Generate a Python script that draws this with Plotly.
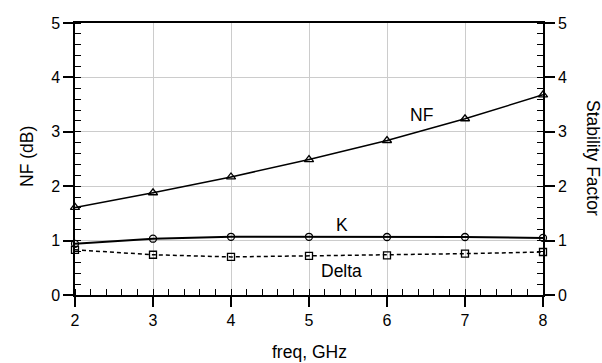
import plotly.graph_objects as go

freq = [2, 3, 4, 5, 6, 7, 8]
nf_db = [1.61, 1.88, 2.17, 2.49, 2.84, 3.24, 3.68]
k_factor = [0.94, 1.035, 1.07, 1.07, 1.066, 1.066, 1.05]
delta = [0.83, 0.74, 0.70, 0.72, 0.73, 0.76, 0.79]

FONT = "Liberation Sans, Arial, sans-serif"

fig = go.Figure()
fig.add_trace(go.Scatter(x=freq, y=nf_db, mode="lines+markers", name="NF", cliponaxis=False,
                         line=dict(color="black", width=1.5),
                         marker=dict(symbol="triangle-up-open", size=8, color="black", line=dict(width=1.3))))
fig.add_trace(go.Scatter(x=freq, y=k_factor, mode="lines+markers", name="K", yaxis="y2", cliponaxis=False,
                         line=dict(color="black", width=2),
                         marker=dict(symbol="circle-open", size=7, color="black", line=dict(width=1.3))))
fig.add_trace(go.Scatter(x=freq, y=delta, mode="lines+markers", name="Delta", yaxis="y2", cliponaxis=False,
                         line=dict(color="black", width=1.5, dash="4px,3px"),
                         marker=dict(symbol="square-open", size=7, color="black", line=dict(width=1.3))))

axis_common = dict(showline=True, linecolor="black", linewidth=1.5, automargin=False,
                   showgrid=True, gridcolor="#cccccc", gridwidth=1,
                   ticks="outside", ticklen=10, tickwidth=1.5, tickcolor="black",
                   tickfont=dict(family=FONT, size=16, color="black"),
                   zeroline=False, dtick=1,
                   minor=dict(ticks="inside", ticklen=6, tickwidth=1.2, tickcolor="black",
                              dtick=0.2, showgrid=False))

fig.update_layout(
    width=602, height=363,
    margin=dict(l=75, r=59, t=23, b=68),
    paper_bgcolor="white", plot_bgcolor="white",
    showlegend=False,
    font=dict(family=FONT, color="black"),
    xaxis=dict(range=[2, 8], mirror=True, **axis_common),
    yaxis=dict(range=[0, 5], **axis_common),
    yaxis2=dict(range=[0, 5], overlaying="y", side="right", **axis_common),
    annotations=[
        dict(x=6.44, y=3.31, text="NF", showarrow=False, font=dict(size=17.5, family=FONT)),
        dict(x=5.42, y=1.29, text="K", showarrow=False, font=dict(size=17.5, family=FONT)),
        dict(x=5.42, y=0.45, text="Delta", showarrow=False, font=dict(size=17.5, family=FONT)),
        dict(xref="paper", yref="paper", x=(309 - 75) / 468, y=-(352 - 295) / 272,
             text="freq, GHz", showarrow=False, yanchor="middle", xanchor="center",
             font=dict(size=17.5, family=FONT)),
        dict(xref="paper", yref="paper", x=-(75 - 27) / 468, y=(295 - 157) / 272,
             text="NF (dB)", textangle=-90, showarrow=False, xanchor="center", yanchor="middle",
             font=dict(size=17.5, family=FONT)),
        dict(xref="paper", yref="paper", x=(593 - 75) / 468, y=(295 - 158) / 272,
             text="Stability Factor", textangle=90, showarrow=False, xanchor="center", yanchor="middle",
             font=dict(size=17.5, family=FONT)),
    ],
)

fig.write_html("out.html")
